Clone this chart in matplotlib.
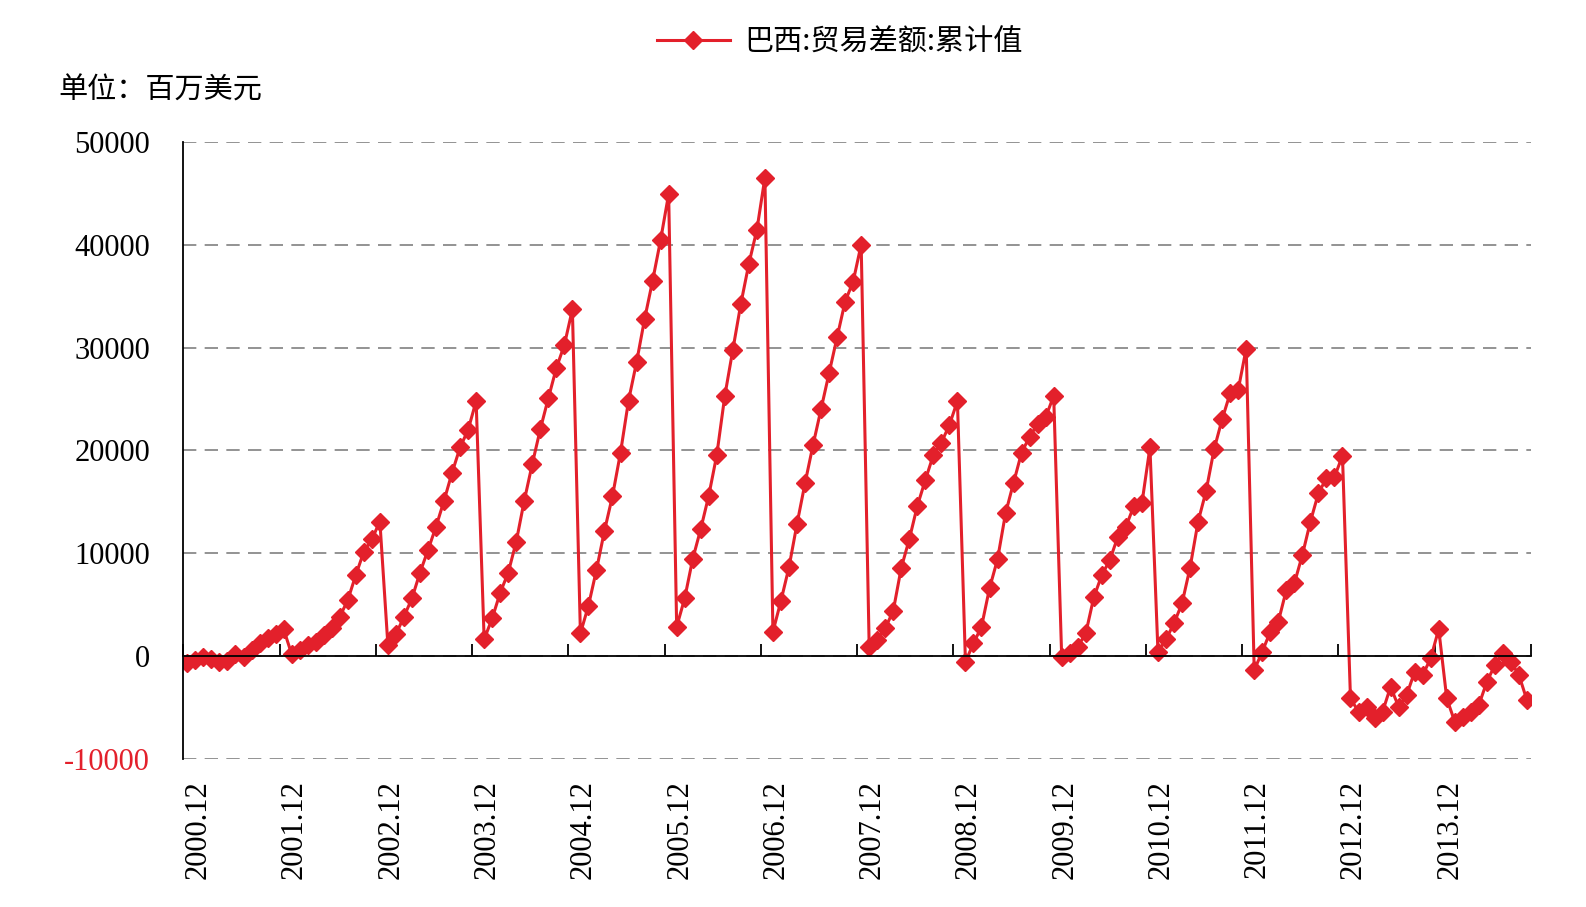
import numpy as np
import matplotlib
matplotlib.use('Agg')
import matplotlib.pyplot as plt
from matplotlib.transforms import ScaledTranslation

plt.rcParams['font.family'] = ['Liberation Serif', 'Noto Sans CJK SC']

# 巴西贸易差额累计值, 百万美元, 2000.12 - 2014.11
v2000 = [-650]
v2001 = [-350, -100, -300, -500, -450, 250, -50, 600, 1300, 1750, 2200, 2650]
v2002 = [220, 600, 1100, 1420, 2070, 2720, 3850, 5470, 7900, 10160, 11370, 13100]
v2003 = [1100, 2140, 3850, 5640, 8130, 10330, 12600, 15120, 17840, 20300, 22000, 24800]
v2004 = [1650, 3690, 6180, 8130, 11140, 15120, 18690, 22060, 25070, 28000, 30250, 33700]
v2005 = [2230, 4920, 8390, 12200, 15580, 19790, 24840, 28570, 32750, 36480, 40460, 44900]
v2006 = [2880, 5640, 9460, 12370, 15610, 19560, 25300, 29770, 34240, 38130, 41430, 46500]
v2007 = [2390, 5400, 8650, 12860, 16810, 20530, 24030, 27560, 31000, 34460, 36400, 40000]
v2008 = [930, 1580, 2720, 4430, 8610, 11370, 14610, 17130, 19560, 20760, 22480, 24800]
v2009 = [-520, 1260, 2880, 6610, 9430, 13900, 16870, 19790, 21340, 22550, 23230, 25300]
v2010 = [-100, 300, 930, 2240, 5730, 7900, 9360, 11620, 12600, 14610, 14870, 20300]
v2011 = [450, 1650, 3210, 5150, 8610, 13080, 16060, 20120, 23030, 25560, 25880, 29900]
v2012 = [-1330, 450, 2390, 3360, 6440, 7090, 9840, 13080, 15840, 17300, 17400, 19500]
v2013 = [-4080, -5380, -4900, -6030, -5380, -2950, -4900, -3760, -1500, -1820, -190, 2650]
v2014 = [-4080, -6350, -5870, -5380, -4730, -2470, -850, 350, -520, -1820, -4250]

values = np.array(v2000 + v2001 + v2002 + v2003 + v2004 + v2005 + v2006 + v2007
                  + v2008 + v2009 + v2010 + v2011 + v2012 + v2013 + v2014)

year_labels = ['2000.12', '2001.12', '2002.12', '2003.12', '2004.12', '2005.12',
               '2006.12', '2007.12', '2008.12', '2009.12', '2010.12', '2011.12',
               '2012.12', '2013.12']
y_ticks = [-10000, 0, 10000, 20000, 30000, 40000, 50000]

red = '#e3202b'

fig = plt.figure(figsize=(15.86, 9.07), dpi=100)
ax = fig.add_axes([0.1156, 0.1628, 0.8497, 0.6811])

x = np.arange(len(values))
line, = ax.plot(x, values, color=red, lw=2.2, marker='D', ms=9,
                mec=red, mfc=red, label='巴西:贸易差额:累计值')

ax.set_xlim(-0.5, len(values) - 0.5)
ax.set_ylim(-10000, 50000)
ax.set_yticks(y_ticks)
ax.set_yticklabels([str(v) for v in y_ticks])
ax.tick_params(axis='y', length=0, pad=24, labelsize=22)
ax.get_yticklabels()[0].set_color(red)
ax.yaxis.grid(True, color='#808080', ls=(0, (8, 5)), lw=1.2)

for s in ['top', 'right']:
    ax.spines[s].set_visible(False)
ax.spines['left'].set_linewidth(1.3)
ax.spines['bottom'].set_position(('data', 0))
ax.spines['bottom'].set_linewidth(1.3)

# year boundary ticks on the zero line
ax.set_xticks(np.arange(-0.5, len(values), 12))
ax.tick_params(axis='x', direction='in', length=9, width=1.3, labelbottom=False)

# labels at the bottom, on each December
sec = ax.secondary_xaxis('bottom')
sec.spines['bottom'].set_visible(False)
sec.set_xticks(np.arange(len(year_labels)) * 12)
sec.set_xticklabels(year_labels, rotation=90, fontsize=22)
sec.tick_params(length=0, pad=15)
shift = ScaledTranslation(0.11, 0, fig.dpi_scale_trans)
for lab in sec.get_xticklabels():
    lab.set_transform(lab.get_transform() + shift)

fig.text(0.0365, 0.9, '单位：百万美元', fontsize=21, family=['Noto Sans CJK SC'],
         va='center', ha='left')

fig.legend(handles=[line], loc='center', bbox_to_anchor=(0.5296, 0.953),
           frameon=False, handlelength=2.5, handletextpad=0.5,
           prop={'family': ['Noto Sans CJK SC'], 'size': 21})

fig.savefig('out.png', dpi=100)
